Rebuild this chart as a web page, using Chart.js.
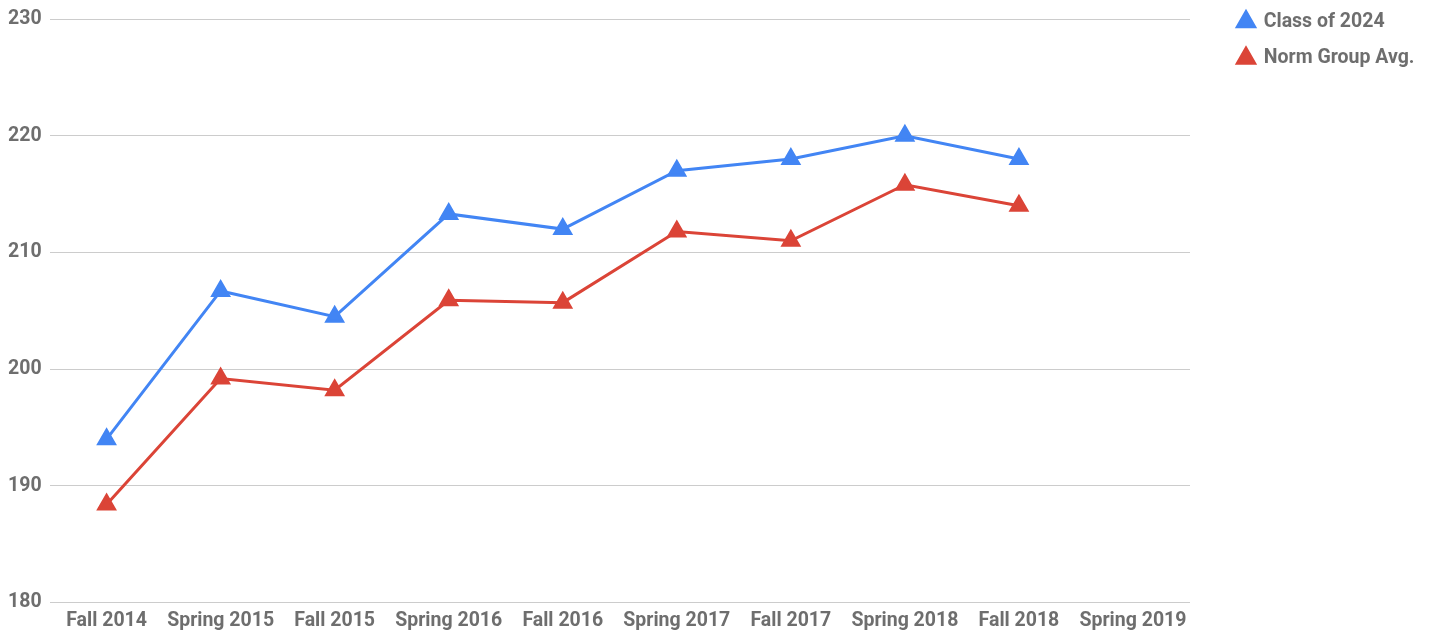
<!DOCTYPE html>
<html>
<head>
<meta charset="utf-8">
<script src="https://cdn.jsdelivr.net/npm/chart.js@4"></script>
<style>
    html, body { margin: 0; padding: 0; background: #fff; }
    #wrap { position: relative; width: 1435px; height: 634px; }
</style>
</head>
<body>
<div id="wrap"><canvas id="grafico"></canvas></div>
<script>
const categorias = ['Fall 2014', 'Spring 2015', 'Fall 2015', 'Spring 2016', 'Fall 2016',
    'Spring 2017', 'Fall 2017', 'Spring 2018', 'Fall 2018', 'Spring 2019'];
const clase2024 = [194.0, 206.7, 204.5, 213.3, 212.0, 217.0, 218.0, 220.0, 218.0, null];
const promedioNorma = [188.4, 199.2, 198.2, 205.9, 205.7, 211.8, 211.0, 215.8, 214.0, null];
const ticksY = [180, 190, 200, 210, 220, 230];

const grisTexto = '#6e6e6e';
const fuente = { family: 'Roboto', weight: 'bold', size: 19.5 };

// La leyenda ocupa el espacio a la derecha del area del grafico
const margenLeyenda = {
    id: 'margenLeyenda',
    beforeInit(chart) {
        const fitOriginal = chart.legend.fit;
        chart.legend.fit = function () {
            fitOriginal.call(this);
            this.width = 245;
        };
    },
    afterLayout(chart) {
        chart.legend.left += 31;
        chart.legend.top -= 24;
    }
};

const ctx = document.getElementById('grafico').getContext('2d');
new Chart(ctx, {
    type: 'line',
    data: {
        labels: categorias,
        datasets: [{
            label: 'Class of 2024',
            data: clase2024,
            borderColor: '#4285F4',
            backgroundColor: '#4285F4',
            borderWidth: 3,
            pointStyle: 'triangle',
            pointRadius: 9,
            tension: 0
        }, {
            label: 'Norm Group Avg.',
            data: promedioNorma,
            borderColor: '#DB4437',
            backgroundColor: '#DB4437',
            borderWidth: 3,
            pointStyle: 'triangle',
            pointRadius: 9,
            tension: 0
        }]
    },
    options: {
        responsive: true,
        maintainAspectRatio: false,
        animation: false,
        layout: { padding: { top: 19, right: 0, left: 8, bottom: -6 } },
        scales: {
            x: {
                offset: true,
                grid: { display: false, drawTicks: false },
                border: { display: false },
                ticks: { color: grisTexto, font: fuente, maxRotation: 0, autoSkip: false, padding: 7 }
            },
            y: {
                min: 180,
                max: 230,
                afterBuildTicks: axis => { axis.ticks = ticksY.map(v => ({ value: v })); },
                grid: { color: '#cccccc', lineWidth: 1, drawTicks: false },
                border: { display: false },
                ticks: { color: grisTexto, font: fuente, crossAlign: 'far', padding: 4 }
            }
        },
        plugins: {
            legend: {
                position: 'right',
                align: 'start',
                labels: {
                    usePointStyle: true,
                    pointStyle: 'triangle',
                    boxWidth: 16,
                    boxHeight: 14,
                    padding: 17,
                    color: grisTexto,
                    font: fuente
                }
            },
            tooltip: { enabled: false }
        }
    },
    plugins: [margenLeyenda]
});
</script>
</body>
</html>
